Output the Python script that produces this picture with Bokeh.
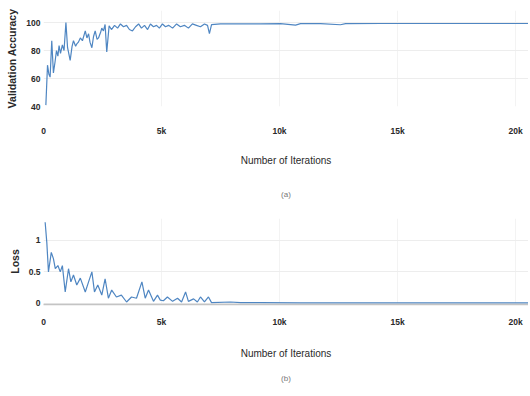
from bokeh.plotting import figure
from bokeh.layouts import column
from bokeh.models import FixedTicker, Range1d, Title
from bokeh.embed import file_html
from bokeh.resources import INLINE

# ---- data ----
acc_iter = [100, 170, 230, 280, 350, 420, 490, 550, 610, 660, 720, 800, 870, 950, 1020,
            1130, 1210, 1270, 1360, 1410, 1480, 1560, 1650, 1770, 1840, 1910, 1970, 2050,
            2120, 2190, 2270, 2330, 2420, 2470, 2540, 2610, 2680, 2780, 2880, 3010, 3140,
            3260, 3390, 3520, 3640, 3770, 3900, 4030, 4150, 4280, 4410, 4530, 4660, 4790,
            4910, 5040, 5170, 5300, 5470, 5640, 5800, 5970, 6140, 6310, 6480, 6650, 6820,
            6950, 7030, 7120, 7500, 8350, 9190, 10040, 10680, 10890, 11740, 12580, 12800,
            14280, 15970, 17670, 19360, 20550]
acc_val = [41, 69.5, 63, 61, 87, 64, 72, 80, 76, 83.5, 78, 84, 80, 100, 82,
           73, 83, 87, 83, 84.7, 86, 89, 87, 94, 89, 92, 86, 82,
           90, 94, 88, 89, 93, 96, 94, 98.6, 79, 97.6, 95, 98, 96,
           99, 97, 98, 95, 94, 97, 99, 96, 98, 95, 99, 97, 98,
           96, 99, 97, 98, 96, 99, 97, 98, 96, 99, 98, 97, 99,
           98, 92, 98.5, 99, 99, 99, 99.2, 98.2, 99.2, 99.2, 98.4, 99.2,
           99.3, 99.3, 99.3, 99.3, 99.3]

loss_iter = [70, 140, 210, 330, 420, 500, 610, 710, 800, 920, 1060, 1160, 1270, 1410, 1560,
             1770, 1910, 2050, 2160, 2300, 2470, 2610, 2750, 2890, 3090, 3300, 3520, 3730,
             3940, 4170, 4310, 4450, 4660, 4830, 4950, 5080, 5250, 5470, 5680, 5850, 6020,
             6140, 6360, 6520, 6650, 6820, 6990, 7120, 7920, 8350, 9190, 10890, 14000,
             17500, 20550]
loss_val = [1.29, 0.97, 0.5, 0.81, 0.71, 0.55, 0.6, 0.5, 0.6, 0.18, 0.55, 0.34, 0.45, 0.29, 0.4,
            0.18, 0.34, 0.5, 0.18, 0.29, 0.13, 0.39, 0.08, 0.21, 0.1, 0.13, 0.02, 0.1,
            0.08, 0.34, 0.08, 0.21, 0.03, 0.13, 0.05, 0.04, 0.1, 0.03, 0.08, 0.02, 0.18,
            0.03, 0.07, 0.02, 0.1, 0.02, 0.1, 0.01, 0.02, 0.01, 0.01, 0.005, 0.005,
            0.005, 0.005]

x_ticks = [0, 5000, 10000, 15000, 20000]
x_tick_labels = ["0", "5k", "10k", "15k", "20k"]
acc_ticks = [40, 60, 80, 100]
loss_ticks = [0, 0.5, 1]

LINE = "#4f86c2"
FONT = "Liberation Sans"
TXT = "#2a2a2a"
X_END = 20550


def style(p, yticks, ylabel, caption, tick_sd, lab_sd, cap_sd):
    p.xaxis.ticker = FixedTicker(ticks=x_ticks)
    p.xaxis.major_label_overrides = {t: l for t, l in zip(x_ticks, x_tick_labels)}
    p.yaxis.ticker = FixedTicker(ticks=yticks)
    p.yaxis.major_label_overrides = {t: str(t) for t in yticks}
    for ax in (p.xaxis[0], p.yaxis[0]):
        ax.major_tick_line_color = None
        ax.minor_tick_line_color = None
        ax.major_tick_out = 0
        ax.major_tick_in = 0
        ax.minor_tick_out = 0
        ax.major_label_text_font = FONT
        ax.major_label_text_font_size = "8.5px"
        ax.major_label_text_font_style = "bold"
        ax.major_label_text_color = TXT
        ax.axis_label_text_color = TXT
    p.yaxis.axis_line_color = None
    p.yaxis.major_label_standoff = 3
    p.yaxis.axis_label = ylabel
    p.yaxis.axis_label_text_font = FONT
    p.yaxis.axis_label_text_font_size = "10.5px"
    p.yaxis.axis_label_text_font_style = "bold"
    p.yaxis.axis_label_standoff = 5
    p.xaxis.major_label_standoff = tick_sd
    p.xaxis.axis_label = "Number of Iterations"
    p.xaxis.axis_label_text_font = FONT
    p.xaxis.axis_label_text_font_size = "10px"
    p.xaxis.axis_label_text_font_style = "normal"
    p.xaxis.axis_label_standoff = lab_sd
    p.ygrid.grid_line_color = "#ededed"
    p.xgrid.grid_line_color = "#f3f3f3"
    p.outline_line_color = None
    t = Title(text=caption, align="center", text_font=FONT, text_font_size="8px",
              text_font_style="normal", text_color="#777777", standoff=cap_sd)
    p.add_layout(t, "below")


p1 = figure(frame_width=485, frame_height=96, output_backend="svg", toolbar_location=None,
            x_range=Range1d(0, X_END), y_range=Range1d(40, 108.6),
            min_border_left=43, min_border_right=0, min_border_top=10, min_border_bottom=0)
p1.line(acc_iter, acc_val, line_color=LINE, line_width=1.2)
style(p1, acc_ticks, "Validation Accuracy", "(a)", 19, 16, 38)
p1.xaxis.axis_line_color = None

p2 = figure(frame_width=485, frame_height=86, output_backend="svg", toolbar_location=None,
            x_range=Range1d(0, X_END), y_range=Range1d(-0.02, 1.35),
            min_border_left=43, min_border_right=0, min_border_top=1, min_border_bottom=0)
p2.line(loss_iter, loss_val, line_color=LINE, line_width=1.2)
style(p2, loss_ticks, "Loss", "(b)", 12, 18, 21)
p2.xaxis.axis_line_color = "#c4c4c4"
p2.xaxis.axis_line_width = 1.5

layout = column(p1, p2, spacing=0)
open("out.html", "w").write(file_html(layout, INLINE))
